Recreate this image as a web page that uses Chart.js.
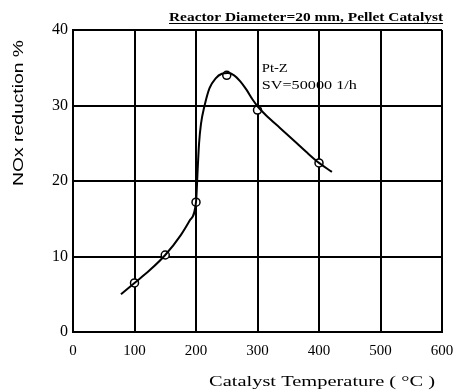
<!DOCTYPE html>
<html><head><meta charset="utf-8">
<script src="https://cdn.jsdelivr.net/npm/chart.js@4"></script>
<style>html,body{margin:0;padding:0;background:#fff}#wrap{width:457px;height:391px}</style>
</head><body><div id="wrap"><canvas id="c"></canvas></div>
<script>
const markerTemps = [100, 150, 200, 250, 300, 400];
const markerValues = [6.5, 10.2, 17.2, 34.0, 29.4, 22.4];
const curveTemps = [78, 100, 125, 150, 175, 190, 200, 203, 205, 208, 214, 222, 232, 242, 252, 262, 272, 282, 292, 300, 315, 337, 364, 380, 400, 421];
const curveValues = [5.0, 6.5, 8.2, 10.2, 12.8, 14.8, 17.2, 22, 25, 27.5, 30, 32.3, 33.6, 34.2, 34.3, 34.0, 33.2, 32.1, 30.8, 29.9, 28.6, 27.0, 25.0, 23.8, 22.4, 21.2];
const xTicks = [0, 100, 200, 300, 400, 500, 600];
const yTicks = [0, 10, 20, 30, 40];
const titleText = "Reactor Diameter=20 mm, Pellet Catalyst";
const noteLines = ["Pt-Z", "SV=50000 1/h"];
const xTitle = "Catalyst Temperature ( \u00B0C )";
const yTitle = "NOx reduction %";

const serif = "'Liberation Serif', 'DejaVu Serif', serif";
function fitText(ctx, txt, x, y, targetW, align) {
  const w = ctx.measureText(txt).width;
  const k = targetW / w;
  ctx.save();
  ctx.translate(x, y);
  ctx.scale(k, 1);
  ctx.textAlign = 'left';
  const off = align === 'right' ? -w : align === 'center' ? -w / 2 : 0;
  ctx.fillText(txt, off, 0);
  ctx.restore();
}
const textPlugin = {
  id: 'texts',
  afterDraw(chart) {
    const ctx = chart.ctx, a = chart.chartArea, xs = chart.scales.x, ys = chart.scales.y;
    ctx.save();
    ctx.fillStyle = '#000';
    ctx.textBaseline = 'alphabetic';
    // title
    ctx.font = "bold 12px " + serif;
    fitText(ctx, titleText, 443, 21, 274, 'right');
    ctx.fillRect(169, 23, 274, 1);
    // note
    ctx.font = "13px " + serif;
    fitText(ctx, noteLines[0], xs.getPixelForValue(307), ys.getPixelForValue(34.4), 26, 'left');
    fitText(ctx, noteLines[1], xs.getPixelForValue(307), ys.getPixelForValue(32.2), 95, 'left');
    // x title
    ctx.font = "15px " + serif;
    fitText(ctx, xTitle, 322, 386, 226, 'center');
    // y title
    ctx.translate(19, 113);
    ctx.rotate(-Math.PI / 2);
    ctx.font = "14px 'Liberation Sans', Arial, sans-serif";
    ctx.textBaseline = 'middle';
    fitText(ctx, yTitle, 0, 0, 146, 'center');
    ctx.restore();
  }
};

new Chart(document.getElementById('c'), {
  type: 'scatter',
  data: {
    datasets: [
      {
        data: curveTemps.map((t, i) => ({x: t, y: curveValues[i]})),
        showLine: true, pointRadius: 0, borderColor: '#000', borderWidth: 2,
        cubicInterpolationMode: 'monotone', fill: false
      },
      {
        data: markerTemps.map((t, i) => ({x: t, y: markerValues[i]})),
        showLine: false, pointRadius: 4, pointBackgroundColor: '#fff',
        pointBorderColor: '#000', pointBorderWidth: 1.5
      }
    ]
  },
  options: {
    responsive: true, maintainAspectRatio: false, animation: false,
    layout: { padding: { left: 0, right: 15, top: 30, bottom: 0 } },
    plugins: { legend: { display: false }, tooltip: { enabled: false } },
    scales: {
      x: {
        type: 'linear', min: 0, max: 600,
        afterBuildTicks: s => { s.ticks = xTicks.map(v => ({value: v})); },
        afterFit: s => { s.height = 59; s.paddingRight = 0; s.paddingLeft = 0; },
        grid: { color: '#000', lineWidth: 2, drawTicks: false },
        border: { color: '#000', width: 2 },
        ticks: { color: '#000', padding: 10, font: { family: serif, size: 15 }, maxRotation: 0 }
      },
      y: {
        type: 'linear', min: 0, max: 40,
        afterBuildTicks: s => { s.ticks = yTicks.map(v => ({value: v})); },
        afterFit: s => { s.width = 73; s.paddingTop = 0; s.paddingBottom = 0; },
        grid: { color: '#000', lineWidth: 2, drawTicks: false },
        border: { color: '#000', width: 2 },
        ticks: { color: '#000', padding: 5, font: { family: serif, size: 16 } }
      }
    }
  },
  plugins: [textPlugin]
});
</script></body></html>
